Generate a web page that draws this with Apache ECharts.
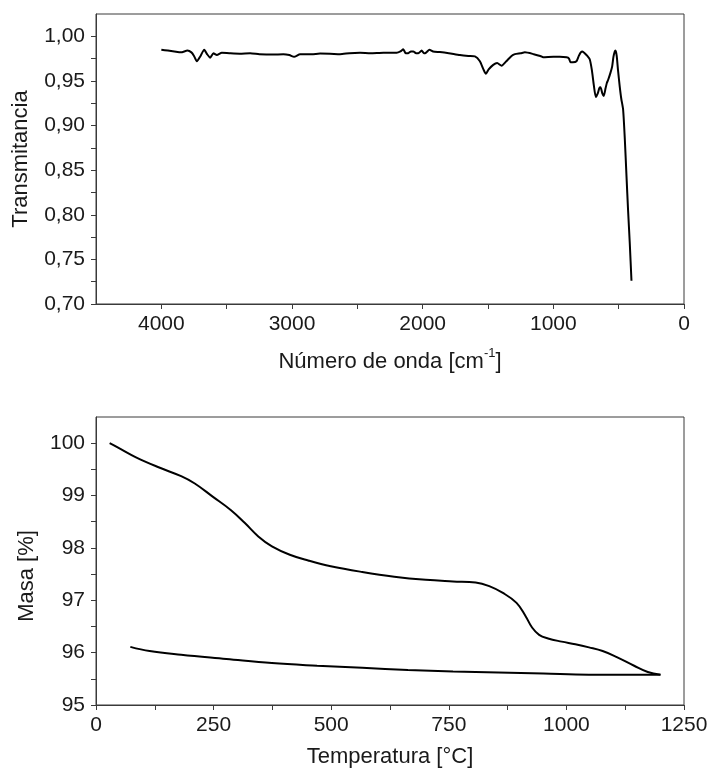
<!DOCTYPE html>
<html>
<head>
<meta charset="utf-8">
<script src="https://cdn.jsdelivr.net/npm/echarts@6/dist/echarts.min.js"></script>
<style>html,body{margin:0;padding:0;background:#fff}#c{width:711px;height:769px}</style>
</head>
<body>
<div id="c"></div>
<script>
// FTIR spectrum
const irWavenumber = [4000,3950,3900,3850,3800,3770,3750,3728,3700,3672,3650,3626,3601,3575,3537,3480,3400,3320,3250,3150,3066,3020,2984,2938,2850,2785,2709,2632,2560,2479,2400,2300,2199,2170,2148,2130,2110,2090,2072,2050,2033,2008,1990,1982,1965,1949,1920,1868,1800,1715,1650,1600,1562,1535,1516,1495,1460,1430,1396,1360,1320,1294,1250,1218,1150,1100,1078,1000,950,899,880,869,850,823,805,790,777,760,740,721,705,690,675,660,648,639,625,614,600,590,581,563,550,540,530,524,515,505,492,480,466,453,440,428,415,402];
const irTransmittance = [0.985,0.984,0.983,0.982,0.984,0.982,0.978,0.972,0.978,0.985,0.980,0.976,0.981,0.979,0.9815,0.981,0.9805,0.981,0.980,0.9795,0.980,0.979,0.977,0.980,0.980,0.9806,0.9805,0.980,0.981,0.9815,0.981,0.9815,0.9815,0.983,0.9854,0.981,0.981,0.983,0.983,0.981,0.981,0.984,0.981,0.981,0.983,0.985,0.983,0.9823,0.981,0.979,0.978,0.9775,0.972,0.963,0.958,0.963,0.968,0.970,0.967,0.972,0.978,0.980,0.981,0.982,0.980,0.978,0.9765,0.977,0.977,0.9765,0.975,0.971,0.971,0.972,0.978,0.982,0.983,0.981,0.978,0.974,0.962,0.945,0.932,0.936,0.942,0.943,0.936,0.933,0.942,0.948,0.951,0.959,0.966,0.977,0.983,0.984,0.978,0.962,0.944,0.930,0.918,0.885,0.843,0.805,0.768,0.726];
// TGA: heating and cooling branches
const heatT = [29,46,85,133,181,210,248,287,316,345,374,412,451,499,566,634,701,759,807,836,865,894,913,927,942,961,990,1019,1048,1077,1106,1144,1173,1200];
const heatM = [100.0,99.92,99.73,99.54,99.37,99.23,98.98,98.72,98.48,98.22,98.03,97.87,97.76,97.65,97.54,97.45,97.39,97.36,97.34,97.27,97.14,96.95,96.70,96.48,96.34,96.27,96.21,96.16,96.10,96.03,95.92,95.75,95.63,95.58];
const coolT = [1200,1144,1048,951,855,759,663,566,470,374,277,181,114,73];
const coolM = [95.58,95.58,95.58,95.60,95.62,95.64,95.67,95.71,95.75,95.80,95.88,95.96,96.03,96.11];

const irXTicks = [0,1000,2000,3000,4000];
const irYTicks = [0.70,0.75,0.80,0.85,0.90,0.95,1.00];
const tgaXTicks = [0,250,500,750,1000,1250];
const tgaYTicks = [95,96,97,98,99,100];

const FONT = 'Liberation Sans, Arial, sans-serif';
const AXC = '#3a3a3a';
const TXT = '#1a1a1a';

function zip(a,b){return a.map((v,i)=>[v,b[i]]);}
function has(list,v){return list.some(t=>Math.abs(t-v)<1e-6);}

const baseAxis = {
  axisLine:{show:true,onZero:false,lineStyle:{color:AXC,width:1}},
  axisTick:{show:true,inside:false,length:5,lineStyle:{color:AXC}},
  splitLine:{show:false},
  nameLocation:'middle'
};
const labelStyle = {color:TXT,fontFamily:FONT,fontSize:21};

const option = {
  animation:false,
  backgroundColor:'#fff',
  grid:[
    {left:96,right:27,top:14,height:290,show:true,borderColor:AXC,borderWidth:1,containLabel:false},
    {left:96,right:27,top:417,height:289,show:true,borderColor:AXC,borderWidth:1,containLabel:false}
  ],
  xAxis:[
    Object.assign({},baseAxis,{
      type:'value',gridIndex:0,min:0,max:4500,interval:500,inverse:true,
      axisLabel:Object.assign({},labelStyle,{margin:10,showMaxLabel:false,
        formatter:v=>has(irXTicks,v)?String(v):''}),
      name:'{a|Número de onda [cm}{s|-1}{a|]}',nameGap:43,
      nameTextStyle:{rich:{
        a:{fontFamily:FONT,fontSize:22,color:TXT,lineHeight:26,verticalAlign:'bottom'},
        s:{fontFamily:FONT,fontSize:13,color:TXT,lineHeight:26,verticalAlign:'top'}
      }}
    }),
    Object.assign({},baseAxis,{
      type:'value',gridIndex:1,min:0,max:1250,interval:125,
      axisLabel:Object.assign({},labelStyle,{margin:10,
        formatter:v=>has(tgaXTicks,v)?String(v):''}),
      name:'Temperatura [°C]',nameGap:41,
      nameTextStyle:{fontFamily:FONT,fontSize:22,color:TXT}
    })
  ],
  yAxis:[
    Object.assign({},baseAxis,{
      type:'value',gridIndex:0,min:0.70,max:1.025,interval:0.025,
      axisLabel:Object.assign({},labelStyle,{margin:11,showMaxLabel:false,
        formatter:v=>has(irYTicks,v)?v.toFixed(2).replace('.',','):''}),
      name:'Transmitancia',nameGap:64,
      nameTextStyle:{fontFamily:FONT,fontSize:22,color:TXT}
    }),
    Object.assign({},baseAxis,{
      type:'value',gridIndex:1,min:95,max:100.5,interval:0.5,
      axisLabel:Object.assign({},labelStyle,{margin:11,showMaxLabel:false,
        formatter:v=>has(tgaYTicks,v)?String(v):''}),
      name:'Masa [%]',nameGap:58,
      nameTextStyle:{fontFamily:FONT,fontSize:22,color:TXT,padding:[0,30,0,0]}
    })
  ],
  series:[
    {type:'line',xAxisIndex:0,yAxisIndex:0,data:zip(irWavenumber,irTransmittance),
      showSymbol:false,lineStyle:{color:'#000',width:2},smooth:0.2},
    {type:'line',xAxisIndex:1,yAxisIndex:1,data:zip(heatT,heatM),
      showSymbol:false,lineStyle:{color:'#000',width:2},smooth:0.4},
    {type:'line',xAxisIndex:1,yAxisIndex:1,data:zip(coolT,coolM),
      showSymbol:false,lineStyle:{color:'#000',width:2},smooth:0.4}
  ]
};
const chart = echarts.init(document.getElementById('c'),null,{renderer:'canvas'});
chart.setOption(option);
</script>
</body>
</html>
